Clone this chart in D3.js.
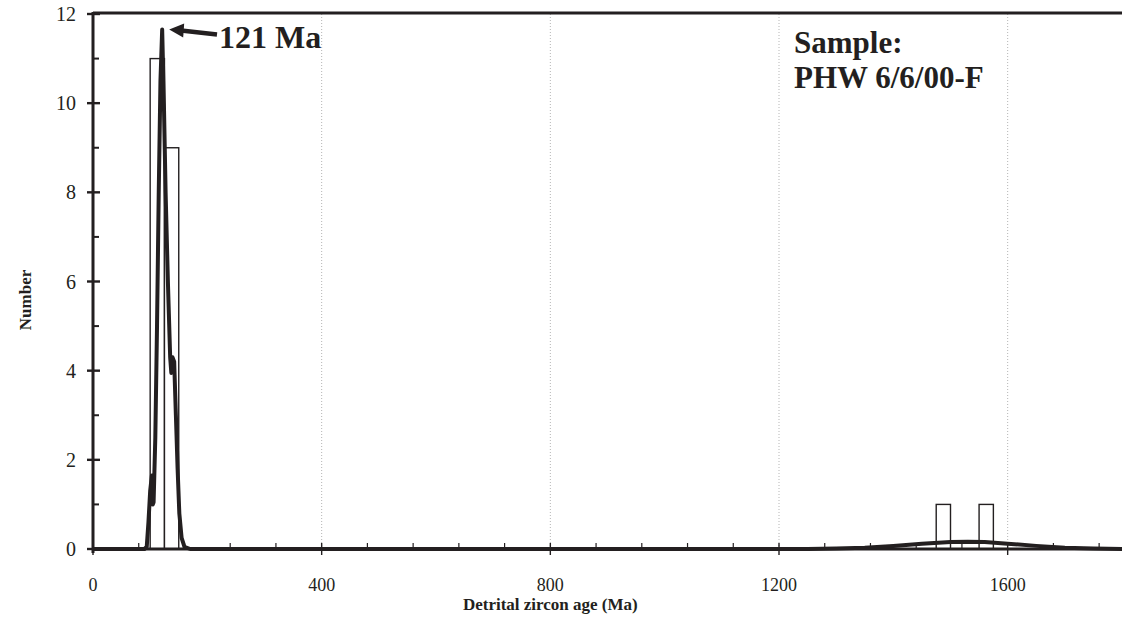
<!DOCTYPE html>
<html><head><meta charset="utf-8">
<script src="https://cdn.jsdelivr.net/npm/d3@7"></script>
<style>body{margin:0;background:#fff}svg{display:block}</style>
</head><body><svg id="c" width="1122" height="617"></svg>
<script>
// ---- data ----
const binStarts = [100, 125, 1475, 1550];
const binWidth = 25;
const binCounts = [11, 9, 1, 1];
const curveAges = [0, 90, 94, 97, 100, 103, 104.5, 106, 109, 112, 115, 118, 121, 124, 127, 131, 135, 137, 139, 142, 145, 148, 151, 155, 160, 170, 1250, 1300, 1350, 1400, 1450, 1500, 1530, 1560, 1600, 1650, 1700, 1750, 1800];
const curveProb = [0, 0, 0.05, 0.6, 1.3, 1.65, 1.0, 1.05, 2.5, 5.0, 8.0, 10.5, 11.65, 10.0, 8.0, 6.0, 4.3, 3.95, 4.3, 4.2, 3.0, 1.8, 0.8, 0.25, 0.05, 0, 0, 0.01, 0.03, 0.07, 0.12, 0.155, 0.165, 0.155, 0.12, 0.07, 0.03, 0.01, 0];
const xTicks = [0, 400, 800, 1200, 1600];
const yTicks = [0, 2, 4, 6, 8, 10, 12];
const peakLabel = "121 Ma";
const peakAge = 121, peakValue = 11.65;
const sampleLines = ["Sample:", "PHW 6/6/00-F"];

// ---- layout ----
const FONT = "'Times New Roman', 'Liberation Serif', Times, serif";
const svg = d3.select("#c");
const L = 93, R = 1122, T = 14, B = 549;
const x = d3.scaleLinear().domain([0, 1800]).range([L, R]);
const y = d3.scaleLinear().domain([0, 12]).range([B, T]);
const ink = "#231f20";

// gridlines
svg.append("g").selectAll("line").data(xTicks.filter(d => d > 0)).join("line")
  .attr("x1", d => x(d)).attr("x2", d => x(d)).attr("y1", T).attr("y2", B)
  .attr("stroke", "#b5b5b5").attr("stroke-width", 1).attr("stroke-dasharray", "1,2");

// bars
svg.append("g").selectAll("rect").data(binStarts).join("rect")
  .attr("x", d => x(d)).attr("width", d => x(d + binWidth) - x(d))
  .attr("y", (d, i) => y(binCounts[i])).attr("height", (d, i) => y(0) - y(binCounts[i]))
  .attr("fill", "#fff").attr("stroke", ink).attr("stroke-width", 1.4);

// x axis minor ticks (inside)
const xMinor = d3.range(80, 1800, 80).filter(d => d % 400 !== 0);
svg.append("g").selectAll("line").data(xMinor).join("line")
  .attr("x1", d => x(d)).attr("x2", d => x(d)).attr("y1", B).attr("y2", B - 6)
  .attr("stroke", ink).attr("stroke-width", 1.2);
// x major ticks
svg.append("g").selectAll("line").data(xTicks).join("line")
  .attr("x1", d => x(d)).attr("x2", d => x(d)).attr("y1", B - 6).attr("y2", B + 6)
  .attr("stroke", ink).attr("stroke-width", 1.4);
// y minor ticks (inside)
const yMinor = [1, 3, 5, 7, 9, 11];
svg.append("g").selectAll("line").data(yMinor).join("line")
  .attr("x1", L).attr("x2", L + 6).attr("y1", d => y(d)).attr("y2", d => y(d))
  .attr("stroke", ink).attr("stroke-width", 2);
// y major ticks
svg.append("g").selectAll("line").data(yTicks).join("line")
  .attr("x1", L - 6).attr("x2", L + 7).attr("y1", d => y(d)).attr("y2", d => y(d))
  .attr("stroke", ink).attr("stroke-width", 2.4);

// axes lines
svg.append("line").attr("x1", L).attr("x2", L).attr("y1", T - 2).attr("y2", B + 4).attr("stroke", ink).attr("stroke-width", 3);
svg.append("line").attr("x1", L).attr("x2", R).attr("y1", T - 1).attr("y2", T - 1).attr("stroke", ink).attr("stroke-width", 3);
svg.append("line").attr("x1", L).attr("x2", R).attr("y1", B).attr("y2", B).attr("stroke", ink).attr("stroke-width", 3.2);

// curve
const pts = curveAges.map((a, i) => [a, curveProb[i]]);
svg.append("path").datum(pts)
  .attr("d", d3.line().x(d => x(d[0])).y(d => y(d[1])))
  .attr("fill", "none").attr("stroke", ink).attr("stroke-width", 4).attr("stroke-linejoin", "round");

// tick labels
svg.append("g").selectAll("text").data(yTicks).join("text")
  .attr("x", L - 17).attr("y", d => y(d)).attr("dy", "0.35em").attr("text-anchor", "end")
  .attr("font-family", FONT).attr("fill", ink)
  .attr("font-size", 20).text(d => d);
svg.append("g").selectAll("text").data(xTicks).join("text")
  .attr("x", d => x(d)).attr("y", 591).attr("text-anchor", "middle")
  .attr("font-family", FONT).attr("fill", ink)
  .attr("font-size", 18).text(d => d);

// axis titles
svg.append("text").attr("x", x(800)).attr("y", 610).attr("text-anchor", "middle")
  .attr("font-family", FONT).attr("fill", ink)
  .attr("font-size", 17).attr("font-weight", "bold").text("Detrital zircon age (Ma)");
svg.append("text").attr("transform", "translate(31,300) rotate(-90)").attr("text-anchor", "middle")
  .attr("font-family", FONT).attr("fill", ink)
  .attr("font-size", 17).attr("font-weight", "bold").text("Number");

// peak annotation
const tipX = x(peakAge) + 7, tipY = y(peakValue);
svg.append("line").attr("x1", tipX + 12).attr("y1", tipY + 1).attr("x2", 217).attr("y2", tipY + 5)
  .attr("stroke", ink).attr("stroke-width", 4.5);
svg.append("path").attr("d", `M${tipX},${tipY} L${tipX + 15},${tipY - 6} L${tipX + 14},${tipY + 8} Z`).attr("fill", ink);
svg.append("text").attr("x", 219).attr("y", 48).attr("font-family", FONT).attr("fill", ink)
  .attr("font-size", 32).attr("font-weight", "bold").text(peakLabel);

// sample label
svg.append("g").selectAll("text").data(sampleLines).join("text")
  .attr("x", 794).attr("y", (d, i) => 53 + i * 35)
  .attr("font-family", FONT).attr("fill", ink)
  .attr("font-size", 31).attr("font-weight", "bold").text(d => d);
</script></body></html>
